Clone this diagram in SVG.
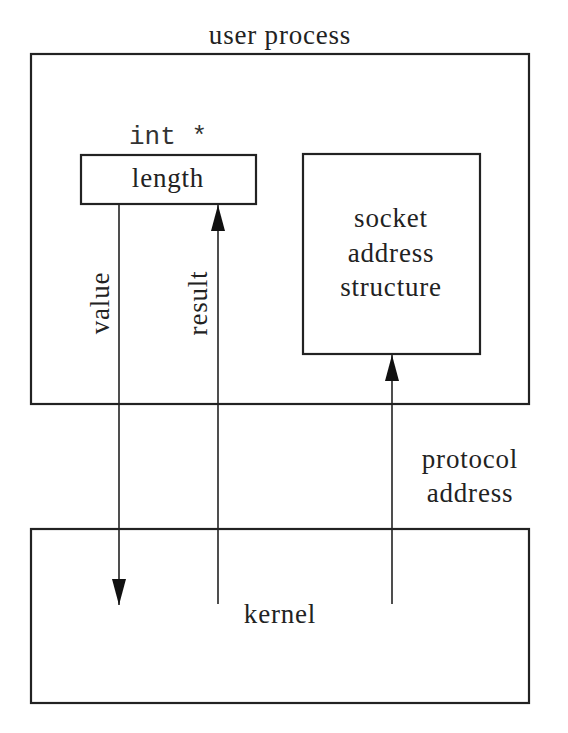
<svg xmlns="http://www.w3.org/2000/svg" width="568" height="733" viewBox="0 0 568 733">
<style>
.box{fill:none;stroke:#222;stroke-width:2.2}
.conn{fill:none;stroke:#222;stroke-width:1.6}
.t{font-family:"Liberation Serif","Times New Roman",serif;font-size:27px;letter-spacing:0.8px;fill:#222;text-anchor:middle}
.m{font-family:"Liberation Mono","Courier New",monospace;font-size:26px;fill:#333;text-anchor:middle}
</style>
<defs>
<marker id="ah" markerUnits="userSpaceOnUse" markerWidth="26" markerHeight="14" refX="26" refY="7" orient="auto" viewBox="0 0 26 14">
<path d="M0,0 L26,7 L0,14 Z" fill="#111"/>
</marker>
</defs>
<rect width="568" height="733" fill="#fff"/>
<g id="user-process">
<rect class="box" x="31" y="54" width="498" height="350"/>
<text class="t" x="280" y="44">user process</text>
</g>
<g id="length">
<text class="m" x="168" y="144">int *</text>
<rect class="box" x="81" y="155" width="175" height="49"/>
<text class="t" x="168" y="187">length</text>
</g>
<g id="sockaddr">
<rect class="box" x="303" y="154" width="177" height="200"/>
<text class="t" x="391" y="227">socket</text>
<text class="t" x="391" y="262">address</text>
<text class="t" x="391" y="296">structure</text>
</g>
<g id="kernel">
<rect class="box" x="31" y="529" width="498" height="174"/>
<text class="t" x="280" y="623">kernel</text>
</g>
<g id="connectors">
<line class="conn" x1="119" y1="204" x2="119" y2="605" marker-end="url(#ah)"/>
<line class="conn" x1="218" y1="604" x2="218" y2="205" marker-end="url(#ah)"/>
<line class="conn" x1="392" y1="604" x2="392" y2="355" marker-end="url(#ah)"/>
<text class="t" transform="translate(109,303) rotate(-90)">value</text>
<text class="t" transform="translate(207,303) rotate(-90)">result</text>
<text class="t" x="470" y="468">protocol</text>
<text class="t" x="470" y="502">address</text>
</g>
</svg>
